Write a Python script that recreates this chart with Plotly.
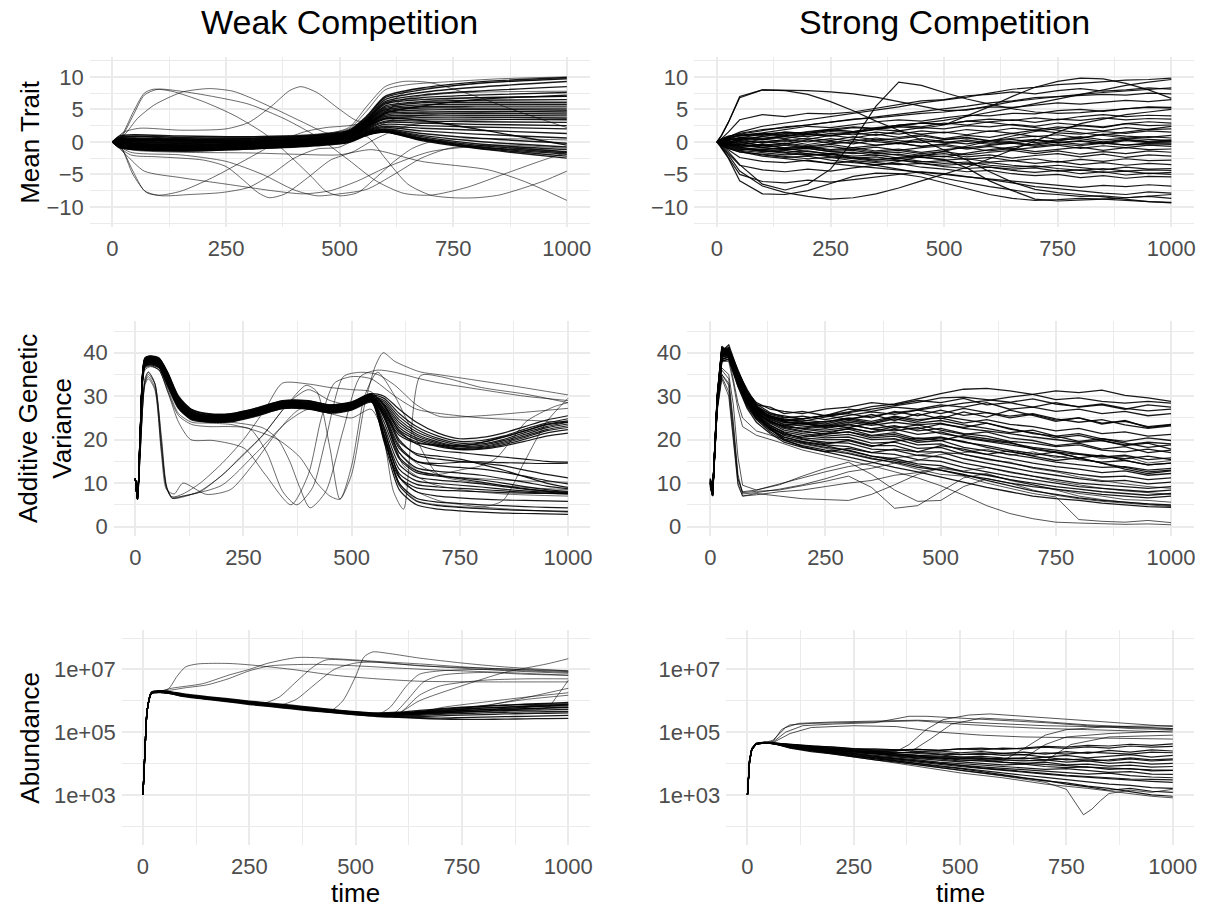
import plotly.graph_objects as go

# ---------------- Weak competition : mean trait ----------------
WT_T = [0, 15, 50, 150, 300, 450, 520, 560, 600, 680, 800, 1000]
WT_BUNDLE = [
    [0, 0.9, 1.1, 0.9, 0.8, 1.1, 1.8, 4.0, 7.0, 8.3, 9.2, 9.9],
    [0, 0.7, 0.9, 0.7, 0.6, 1.0, 1.7, 3.8, 6.8, 8.0, 9.0, 9.7],
    [0, 0.6, 0.8, 0.5, 0.5, 0.9, 1.6, 3.6, 6.5, 7.6, 8.4, 9.3],
    [0, 0.5, 0.6, 0.4, 0.4, 0.8, 1.5, 3.5, 6.2, 7.2, 7.8, 8.5],
    [0, 0.4, 0.5, 0.3, 0.3, 0.7, 1.5, 3.4, 6.0, 6.8, 7.2, 7.6],
    [0, 0.3, 0.4, 0.2, 0.2, 0.6, 1.4, 3.3, 5.8, 6.5, 6.8, 7.0],
    [0, 0.3, 0.3, 0.1, 0.1, 0.6, 1.4, 3.2, 5.5, 6.2, 6.4, 6.5],
    [0, 0.2, 0.2, 0.0, 0.0, 0.5, 1.3, 3.1, 5.3, 6.0, 6.1, 6.1],
    [0, 0.2, 0.1, -0.1, 0.0, 0.5, 1.3, 3.0, 5.1, 5.7, 5.8, 5.8],
    [0, 0.1, 0.0, -0.2, -0.1, 0.4, 1.2, 2.9, 4.9, 5.4, 5.5, 5.5],
    [0, 0.1, -0.1, -0.3, -0.2, 0.4, 1.2, 2.8, 4.7, 5.2, 5.2, 5.2],
    [0, 0.0, -0.2, -0.4, -0.2, 0.3, 1.1, 2.7, 4.5, 4.9, 5.0, 4.9],
    [0, 0.0, -0.3, -0.5, -0.3, 0.3, 1.1, 2.6, 4.3, 4.6, 4.7, 4.6],
    [0, -0.1, -0.3, -0.5, -0.3, 0.2, 1.0, 2.5, 4.1, 4.4, 4.4, 4.3],
    [0, -0.1, -0.4, -0.6, -0.4, 0.2, 1.0, 2.4, 3.9, 4.1, 4.1, 4.0],
    [0, -0.2, -0.4, -0.6, -0.4, 0.1, 0.9, 2.3, 3.7, 3.8, 3.8, 3.7],
    [0, -0.2, -0.5, -0.7, -0.5, 0.1, 0.9, 2.2, 3.5, 3.5, 3.5, 3.4],
    [0, -0.3, -0.5, -0.7, -0.5, 0.0, 0.8, 2.1, 3.2, 3.2, 3.1, 3.0],
    [0, -0.3, -0.6, -0.8, -0.6, 0.0, 0.8, 2.0, 3.0, 2.9, 2.7, 2.5],
    [0, -0.4, -0.6, -0.8, -0.6, -0.1, 0.7, 1.9, 2.7, 2.5, 2.3, 2.0],
    [0, -0.4, -0.7, -0.9, -0.7, -0.1, 0.7, 1.8, 2.4, 2.1, 1.8, 1.3],
    [0, -0.5, -0.8, -1.0, -0.7, -0.2, 0.6, 1.7, 2.2, 1.7, 1.2, 0.6],
    [0, -0.5, -0.8, -1.0, -0.8, -0.2, 0.5, 1.6, 2.0, 1.3, 0.6, -0.2],
    [0, -0.6, -0.9, -1.1, -0.8, -0.3, 0.4, 1.5, 1.9, 1.0, 0.1, -0.8],
    [0, -0.6, -1.0, -1.2, -0.9, -0.3, 0.3, 1.4, 1.8, 0.8, -0.3, -1.2],
    [0, -0.7, -1.0, -1.2, -0.9, -0.4, 0.2, 1.3, 1.7, 0.6, -0.5, -1.5],
    [0, -0.7, -1.1, -1.3, -1.0, -0.4, 0.1, 1.2, 1.6, 0.5, -0.7, -1.7],
    [0, -0.8, -1.1, -1.3, -1.0, -0.5, 0.0, 1.1, 1.6, 0.4, -0.8, -1.9],
    [0, -0.8, -1.2, -1.4, -1.1, -0.5, 0.0, 1.1, 1.5, 0.3, -0.9, -2.2],
    [0, -0.9, -1.2, -1.4, -1.1, -0.6, -0.1, 1.0, 1.5, 0.2, -1.0, -2.5],
    [0, 0.5, 0.3, 0.2, 0.0, 0.3, 1.0, 2.5, 4.4, 5.5, 6.5, 7.2],
    [0, -0.4, 0.2, 0.3, 0.1, 0.3, 1.0, 2.4, 3.6, 3.3, 2.0, -0.5],
]
WT_OUT_T = [
    [0, 20, 45, 70, 90, 130, 200, 270, 340, 400, 440, 470, 500, 540, 580, 620, 660, 700, 800, 1000],
    [0, 20, 45, 70, 100, 150, 220, 300, 380, 450, 520, 580, 640, 700, 780, 860, 940, 1000],
    [0, 25, 55, 90, 120, 155, 213, 265, 300, 360, 420, 470, 510, 550, 590, 650, 750, 850, 1000],
    [0, 25, 60, 150, 250, 300, 350, 390, 415, 450, 500, 540, 580, 640, 750, 1000],
    [0, 20, 45, 70, 100, 150, 220, 300, 360, 420, 470, 520, 570, 620, 700, 800, 1000],
    [0, 20, 45, 75, 110, 170, 240, 300, 350, 400, 450, 500, 560, 620, 700, 850, 1000],
    [0, 40, 100, 200, 250, 290, 320, 345, 380, 430, 480, 530, 580, 650, 750, 1000],
    [0, 40, 150, 250, 330, 400, 450, 500, 560, 620, 680, 740, 800, 900, 1000],
    [0, 40, 150, 300, 400, 498, 571, 680, 827, 907, 1000],
    [0, 150, 300, 450, 520, 560, 600, 650, 700, 750, 800, 850, 900, 950, 1000],
    [0, 150, 300, 450, 520, 560, 600, 640, 700, 800, 900, 1000],
    [0, 150, 300, 450, 520, 560, 600, 650, 750, 850, 1000],
    [0, 30, 70, 150, 250, 350, 420, 480, 540, 600, 700, 850, 1000],
]
WT_OUT_V = [
    [0, 1, 4.5, 7.5, 8.1, 7.8, 6.2, 4, 1, -2.8, -5.5, -7.6, -8.3, -7.8, -5.5, -3, -1, 0, 0.5, 0.3],
    [0, 0.8, 4, 7.2, 8.1, 7.8, 7, 5.8, 3.5, 0.8, -2.8, -6, -7.9, -8.2, -7, -5, -3, -1.6],
    [0, 1, 3.6, 5.6, 6.7, 7.7, 8.2, 7.8, 6.9, 5, 3, 1.4, 1.2, 2.5, 5, 7.8, 8.6, 9.2, 9.8],
    [0, 1.5, 2.1, 1.8, 2, 3, 5.5, 7.9, 8.5, 7.6, 5, 3.2, 3.5, 6.5, 7.5, 7.8],
    [0, -1, -4.5, -7.5, -8.2, -7.6, -5.5, -2.5, -0.2, 1.5, 2.2, 2.5, 3.2, 5.5, 6.3, 6.8, 7],
    [0, -1, -5, -7.8, -8.3, -8.1, -7.8, -7, -5, -2.5, -1.1, -0.8, 1.5, 3.5, 4.2, 4.6, 4.8],
    [0, -2, -2.3, -2.8, -3.8, -6, -7.8, -8.6, -8, -5.5, -2.8, -1.5, 0.5, 2.5, 3.2, 3.6],
    [0, -1.6, -2, -3, -5, -7.4, -8.3, -8, -7.3, -5, -2.5, -1, -0.6, -0.9, -1.6],
    [0, -1.2, -1.6, -1.7, -1.9, -2, -1.2, -3, -4.3, -6.1, -9],
    [0, -0.8, -0.7, -0.2, 0.5, 0.8, -2.5, -6.5, -8.2, -8.6, -8.6, -8.2, -7.2, -6, -4.5],
    [0, 0.5, 0.6, 1, 2.2, 5.5, 8.5, 9.3, 9.1, 7, 4.5, 2.2],
    [0, 0.7, 0.8, 1.2, 2, 4.8, 8, 8.8, 9.3, 9.7, 10],
    [0, -2, -4.5, -5.5, -6.5, -7.5, -8, -7.5, -6, -4, -1.5, -0.5, -1],
]

# ---------------- Strong competition : mean trait ----------------
ST_T = [0, 10, 25, 50, 100, 150, 200, 250, 300, 350, 400, 450, 500, 550, 600,
        650, 700, 750, 800, 850, 900, 950, 1000]
ST_LINES = [
    [0, 0.5, 0.9, 1.2, 1.8, 2.3, 2.6, 3.0, 3.5, 3.7, 4.1, 4.4, 4.6, 5.0, 5.4, 5.3, 5.7, 6.0, 5.8, 6.1, 6.4, 6.2, 6.5],
    [0, 0.4, 0.7, 1.0, 1.4, 1.9, 2.4, 2.2, 2.7, 3.1, 3.4, 3.2, 3.7, 4.1, 4.0, 4.4, 4.3, 4.8, 5.0, 4.7, 5.1, 5.3, 5.2],
    [0, 0.3, 0.6, 1.1, 1.0, 1.5, 1.3, 1.8, 2.2, 2.0, 2.6, 2.9, 2.7, 3.2, 3.5, 3.3, 3.7, 3.4, 3.9, 4.2, 3.9, 4.1, 4.0],
    [0, -0.2, 0.3, 0.6, 1.2, 0.9, 1.5, 1.9, 1.6, 2.2, 2.5, 2.3, 2.9, 2.6, 3.1, 3.4, 3.0, 3.5, 3.3, 3.7, 3.4, 3.6, 3.5],
    [0, 0.2, 0.5, 0.4, 0.9, 1.3, 1.1, 1.6, 1.4, 1.9, 1.7, 2.2, 2.0, 2.5, 2.3, 2.7, 2.4, 2.9, 2.6, 2.3, 2.8, 2.5, 2.6],
    [0, 0.3, 0.2, 0.7, 0.5, 1.0, 0.8, 1.3, 1.1, 1.5, 1.2, 1.7, 1.4, 1.9, 1.6, 2.1, 1.8, 2.3, 2.0, 1.7, 2.2, 1.9, 2.0],
    [0, -0.1, 0.4, 0.2, 0.8, 0.5, 1.1, 0.9, 1.4, 1.0, 1.6, 1.2, 1.5, 1.1, 1.7, 1.3, 1.8, 1.4, 1.2, 1.6, 1.3, 1.7, 1.5],
    [0, 0.2, -0.2, 0.5, 0.3, 0.8, 0.4, 1.0, 0.6, 1.2, 0.7, 1.1, 0.5, 1.0, 0.7, 1.3, 0.8, 1.1, 0.6, 1.2, 0.9, 0.7, 1.0],
    [0, -0.3, 0.1, -0.2, 0.4, 0.1, 0.6, 0.2, 0.8, 0.3, 0.5, 0.9, 0.4, 0.7, 0.2, 0.6, 0.9, 0.4, 0.8, 0.3, 0.5, 0.8, 0.6],
    [0, 0.1, -0.3, 0.2, -0.1, 0.4, 0.0, 0.5, 0.1, 0.6, 0.2, -0.1, 0.3, 0.6, 0.1, 0.4, -0.1, 0.3, 0.5, 0.0, 0.4, 0.1, 0.3],
    [0, -0.2, 0.2, -0.4, 0.1, -0.3, 0.3, -0.2, 0.4, 0.0, -0.3, 0.2, -0.1, 0.3, -0.2, 0.1, 0.4, -0.1, 0.2, -0.2, 0.3, 0.0, 0.1],
    [0, 0.3, 0.0, 0.4, -0.2, 0.2, -0.4, 0.1, -0.3, 0.3, -0.1, 0.5, 0.0, -0.3, 0.2, -0.2, 0.3, -0.1, 0.1, -0.3, 0.2, -0.1, 0.0],
    [0, -0.1, -0.4, -0.1, -0.5, -0.2, -0.6, -0.3, 0.0, -0.5, -0.2, -0.7, -0.3, 0.1, -0.4, -0.1, -0.5, 0.0, -0.4, -0.1, -0.5, -0.2, -0.2],
    [0, 0.2, -0.2, 0.1, -0.6, -0.3, -0.8, -0.4, -0.9, -0.5, -0.2, -0.7, -0.4, -0.9, -0.5, -0.2, -0.7, -0.3, -0.6, -0.2, -0.5, -0.3, -0.4],
    [0, -0.2, -0.5, -0.3, -0.8, -0.5, -1.0, -0.7, -1.2, -0.8, -1.3, -0.9, -0.6, -1.1, -0.7, -1.2, -0.8, -0.5, -1.0, -0.6, -0.9, -0.5, -0.7],
    [0, -0.3, -0.1, -0.6, -0.4, -0.9, -0.7, -1.2, -0.9, -1.4, -1.1, -1.6, -1.2, -0.9, -1.4, -1.0, -1.5, -1.1, -0.8, -1.3, -0.9, -1.2, -1.1],
    [0, 0.1, -0.3, -0.7, -0.5, -1.0, -0.8, -1.3, -1.1, -1.6, -1.3, -1.8, -1.5, -2.0, -1.6, -1.3, -1.8, -1.4, -1.9, -1.5, -1.8, -1.4, -1.6],
    [0, -0.3, -0.6, -0.4, -0.9, -1.2, -1.0, -1.5, -1.3, -1.8, -1.6, -2.1, -1.8, -2.3, -2.0, -2.5, -2.1, -1.8, -2.3, -1.9, -2.4, -2.0, -2.2],
    [0, -0.2, -0.5, -0.9, -1.2, -1.0, -1.5, -1.8, -1.6, -2.1, -1.9, -2.4, -2.2, -2.7, -2.4, -2.9, -2.6, -3.1, -2.7, -3.0, -2.6, -2.9, -2.8],
    [0, -0.4, -0.3, -0.8, -1.3, -1.6, -1.4, -1.9, -2.2, -2.0, -2.5, -2.3, -2.8, -2.6, -3.1, -2.9, -3.3, -3.0, -3.5, -3.2, -3.6, -3.3, -3.5],
    [0, -0.2, -0.6, -1.0, -1.5, -1.3, -1.8, -2.1, -2.5, -2.3, -2.8, -3.1, -2.9, -3.4, -3.2, -3.6, -3.9, -3.6, -4.0, -4.3, -3.9, -4.2, -4.1],
    [0, -0.3, -0.7, -1.2, -1.1, -1.6, -2.0, -1.8, -2.4, -2.7, -2.5, -3.0, -3.3, -3.1, -3.6, -3.9, -3.7, -4.1, -4.4, -4.1, -4.5, -4.3, -4.4],
    [0, -0.4, -0.9, -1.3, -1.6, -2.0, -1.8, -2.3, -2.6, -3.0, -2.8, -3.3, -3.6, -3.4, -3.9, -4.2, -4.0, -4.5, -4.3, -4.7, -4.5, -4.9, -4.7],
    [0, -0.5, -1.0, -1.6, -1.9, -2.2, -2.6, -2.4, -2.9, -3.2, -3.5, -3.3, -3.8, -4.1, -3.9, -4.4, -4.7, -4.4, -4.9, -4.6, -5.1, -4.8, -5.0],
    [0, -0.4, -0.8, -1.4, -2.0, -2.4, -2.2, -2.8, -3.2, -3.5, -3.3, -3.9, -4.2, -4.6, -4.4, -4.9, -5.2, -5.0, -5.5, -5.2, -5.6, -5.3, -5.4],
    [0, 0.3, 0.6, 1.0, 1.3, 1.1, 1.6, 1.9, 2.3, 2.1, 2.6, 2.9, 2.7, 3.2, 3.0, 2.6, 2.2, 1.8, 1.4, 1.0, 0.6, 0.4, 0.2],
    [0, -0.3, -0.6, -1.1, -1.4, -1.8, -2.1, -1.9, -2.5, -2.8, -2.4, -2.0, -2.3, -1.7, -1.2, -0.8, -0.3, 0.2, 0.6, 1.1, 1.5, 2.0, 2.4],
    [0, 0.3, 0.8, 1.3, 1.9, 2.2, 2.6, 3.1, 3.4, 3.9, 4.3, 4.6, 5.0, 5.5, 6.0, 6.3, 6.8, 7.0, 7.1, 7.3, 7.2, 7.5, 7.4],
    [0, -0.5, -1.0, -1.5, -2.2, -2.6, -3.0, -3.3, -3.7, -4.0, -4.3, -4.7, -5.0, -5.4, -5.7, -6.0, -6.4, -6.6, -7.0, -6.7, -6.9, -6.6, -6.8],
    # outlying trajectories
    [0, 1, 3, 7, 8, 8, 7.9, 7.7, 7.4, 6.9, 6.2, 5.4, 4.8, 4.9, 5.5, 6.2, 6.6, 7.0, 7.3, 7.6, 7.8, 8.1, 8.3],
    [0, 1, 3, 6.8, 8, 7.9, 7.3, 6.2, 4.8, 3.2, 1.8, 0.3, -1.2, -2.8, -4.6, -6.2, -7.3, -7.8, -8.1, -8.5, -8.9, -9.2, -9.3],
    [0, -0.5, -1.5, -3.5, -6.5, -7.4, -6.5, -4.2, 0.2, 5.5, 9.2, 8.7, 7.6, 6.6, 5.8, 5.1, 4.6, 4.4, 4.5, 4.8, 5.2, 5.4, 5.3],
    [0, -1, -2.5, -6, -8, -8.1, -7.5, -6.4, -5.3, -4.8, -4.9, -5.4, -6.3, -7.3, -8.1, -8.7, -9, -8.9, -8.7, -8.8, -9, -9.2, -9.4],
    [0, -0.8, -2, -4.5, -6.8, -7.8, -8.4, -8.8, -8.6, -8, -7.1, -6, -5, -3.9, -2.6, -1.2, 0.2, 1.5, 2.8, 3.5, 4.2, 4.6, 5.0],
    [0, 0.5, 1.5, 3.4, 4.2, 3.9, 4.4, 4.3, 4.6, 5.2, 5.8, 6.3, 6.5, 7.1, 7.3, 7.7, 7.4, 7.9, 8.2, 7.8, 8.0, 8.3, 8.1],
    [0, -0.4, -1.2, -2.4, -3, -3.2, -2.8, -3.3, -3.0, -3.6, -4.2, -4.8, -5.6, -6.3, -6.9, -7.4, -7.9, -8.1, -8.4, -8.3, -8.6, -8.4, -8.7],
    [0, -0.6, -1.8, -3.6, -4.3, -4.6, -4.2, -4.5, -4.0, -3.6, -3.0, -2.2, -1.4, -0.6, 0.2, 0.9, 1.6, 2.1, 2.5, 2.2, 2.8, 3.1, 2.9],
    [0, -0.8, -2.4, -5, -6.1, -6.3, -5.9, -6.2, -5.8, -5.4, -5.0, -4.6, -4.9, -5.3, -5.8, -6.3, -6.9, -7.2, -7.6, -7.9, -8.1, -7.7, -7.9],
    [0, 0.2, 0.5, 0.9, 1.2, 1.5, 1.3, 1.8, 1.6, 2.0, 2.3, 2.1, 2.6, 4.0, 5.4, 7.0, 8.4, 9.3, 9.8, 9.7, 9.0, 8.0, 6.7],
    [0, -0.2, 0.3, 0.6, 0.4, 0.9, 1.2, 1.0, 1.5, 1.9, 2.4, 2.9, 3.3, 3.9, 4.5, 5.2, 5.9, 6.6, 7.3, 8.0, 8.7, 9.2, 9.6],
    [0, 0.2, -0.3, -0.6, -0.9, -1.2, -1.0, -1.5, -1.8, -1.6, -2.1, -2.4, -2.7, -4.0, -6.0, -7.5, -8.8, -9.1, -9.0, -8.8, -8.6, -8.4, -8.1],
    [0, 0.3, 0.8, 1.5, 2.4, 2.9, 3.4, 3.8, 4.3, 4.9, 5.4, 6.0, 6.4, 6.9, 7.5, 8.1, 8.4, 8.8, 9.0, 9.3, 9.5, 9.6, 9.8],
]

# ---------------- Weak competition : additive genetic variance ----------------
WV_T = [0, 5, 12, 22, 35, 55, 75, 100, 130, 170, 220, 280, 340, 400, 450, 500, 545,
        575, 610, 650, 700, 750, 800, 850, 900, 950, 1000]
WV_BUNDLE = [
    [11, 6.3, 24, 38.8, 39.3, 38.8, 35.5, 30, 27, 26, 26, 27.3, 29, 29, 28, 28.7, 30.6, 30, 27, 24, 21.5, 20.2, 20.5, 21.5, 23, 24.5, 25.5],
    [11, 6.3, 24, 38.5, 39, 38.5, 35, 29.5, 26.6, 25.6, 25.7, 27, 28.7, 28.6, 27.7, 28.4, 30.3, 29.5, 26, 23, 20.8, 19.6, 19.8, 20.8, 22.4, 23.8, 24.8],
    [11, 6.3, 23.5, 38.2, 38.8, 38.2, 34.6, 29.2, 26.3, 25.4, 25.5, 26.8, 28.5, 28.4, 27.5, 28.2, 30, 29, 25.3, 22.4, 20.3, 19.2, 19.4, 20.5, 22, 23.5, 24.3],
    [11, 6.3, 23.5, 38, 38.6, 38, 34.3, 28.9, 26, 25.2, 25.3, 26.6, 28.3, 28.2, 27.3, 28, 29.8, 28.6, 24.6, 21.8, 19.9, 18.8, 19, 20, 21.6, 23, 24],
    [11, 6.3, 23, 37.8, 38.4, 37.8, 34, 28.6, 25.8, 25, 25.1, 26.4, 28.1, 28, 27.1, 27.8, 29.6, 28.2, 24, 21.3, 19.5, 18.5, 18.7, 19.7, 21.2, 22.7, 23.6],
    [11, 6.3, 23, 37.6, 38.2, 37.6, 33.7, 28.3, 25.5, 24.8, 24.9, 26.2, 27.9, 27.8, 26.9, 27.6, 29.4, 27.8, 23.4, 20.9, 19.2, 18.3, 18.4, 19.4, 20.8, 22.3, 23.2],
    [11, 6.3, 22.5, 37.4, 38, 37.4, 33.4, 28, 25.3, 24.6, 24.7, 26, 27.7, 27.6, 26.7, 27.4, 29.2, 27.4, 22.8, 20.4, 18.9, 18, 18.2, 19.1, 20.5, 22, 22.8],
    [11, 6.3, 22.5, 37.2, 37.8, 37.2, 33.1, 27.8, 25, 24.4, 24.5, 25.8, 27.5, 27.4, 26.5, 27.2, 29, 27, 22.2, 20, 18.6, 17.8, 18, 18.8, 20.1, 21.5, 22.3],
    [11, 6.3, 22, 37, 37.5, 36.8, 32.7, 27.5, 24.8, 24.2, 24.3, 25.6, 27.3, 27.2, 26.3, 27, 28.8, 26.5, 21.6, 19.5, 18.4, 17.7, 17.8, 18.5, 19.6, 20.8, 21.5],
    [11, 6.3, 22, 36.8, 37.2, 36.5, 32.3, 27.2, 24.5, 24, 24.1, 25.4, 27.1, 27, 26.1, 26.8, 28.6, 26, 21, 19.2, 18.7, 18.6, 19.3, 20.6, 22, 23.4, 24.1],
    [11, 6.3, 22, 38.6, 39.1, 38.6, 35.2, 29.7, 26.8, 25.8, 25.8, 27.1, 28.8, 28.8, 27.9, 28.5, 30.4, 28, 22, 19, 17.5, 17, 16.5, 16, 15.5, 15, 14.8],
    [11, 6.3, 22.5, 38.4, 38.9, 38.4, 34.8, 29.3, 26.4, 25.5, 25.6, 26.9, 28.6, 28.5, 27.6, 28.3, 30.2, 27, 20, 16.5, 15.5, 15, 14.6, 14, 13, 12, 11.2],
    [11, 6.3, 23, 38.2, 38.7, 38.1, 34.5, 29, 26.2, 25.3, 25.4, 26.7, 28.4, 28.3, 27.4, 28.1, 30, 26, 18.5, 15, 14, 13.6, 13.2, 12.5, 11.6, 10.6, 9.8],
    [11, 6.3, 23, 38, 38.5, 37.9, 34.2, 28.8, 25.9, 25.1, 25.2, 26.5, 28.2, 28.1, 27.2, 27.9, 29.8, 25, 17, 13.5, 12.7, 12.3, 11.8, 11, 10.2, 9.3, 8.7],
    [11, 6.3, 23.5, 37.8, 38.3, 37.7, 33.9, 28.5, 25.7, 24.9, 25, 26.3, 28, 27.9, 27, 27.7, 29.6, 24, 15.6, 12.4, 11.6, 11.2, 10.7, 10, 9.2, 8.5, 8.1],
    [11, 6.3, 23.5, 37.6, 38.1, 37.5, 33.6, 28.2, 25.4, 24.7, 24.8, 26.1, 27.8, 27.7, 26.8, 27.5, 29.4, 23, 14.3, 11.4, 10.7, 10.3, 9.8, 9.2, 8.6, 8.1, 7.8],
    [11, 6.3, 24, 37.4, 37.9, 37.3, 33.3, 27.9, 25.2, 24.5, 24.6, 25.9, 27.6, 27.5, 26.6, 27.3, 29.2, 22, 13.2, 10.5, 9.9, 9.5, 9.1, 8.6, 8.2, 7.9, 7.6],
    [11, 6.3, 24, 37.2, 37.7, 37, 33, 27.6, 24.9, 24.3, 24.4, 25.7, 27.4, 27.3, 26.4, 27.1, 29, 21, 12.2, 9.7, 9.1, 8.8, 8.5, 8.2, 7.9, 7.7, 7.5],
    [11, 6.3, 22, 37, 37.4, 36.7, 32.6, 27.3, 24.7, 24.1, 24.2, 25.5, 27.2, 27.1, 26.2, 26.9, 28.8, 20, 11.3, 8.9, 8.4, 8.2, 8, 7.8, 7.7, 7.6, 7.5],
    [11, 6.3, 22.5, 38.7, 39.2, 38.7, 35.3, 29.8, 26.9, 25.9, 25.9, 27.2, 28.9, 28.9, 28, 28.6, 30.5, 25.5, 16, 12.8, 11.8, 11, 10.2, 9.4, 8.7, 8.2, 7.9],
    [11, 6.3, 23, 38.3, 38.8, 38.3, 34.7, 29.4, 26.5, 25.6, 25.7, 27, 28.7, 28.6, 27.7, 28.4, 30.1, 22.5, 11.5, 8, 7, 6.6, 6.3, 6.1, 6, 5.9, 5.8],
    [11, 6.3, 23.5, 37.9, 38.4, 37.8, 34.1, 28.7, 25.8, 25, 25.1, 26.4, 28.1, 28, 27.1, 27.8, 29.7, 21, 10, 6.5, 5.6, 5.3, 5, 4.8, 4.6, 4.4, 4.3],
    [11, 6.3, 24, 37.5, 38, 37.4, 33.5, 28.1, 25.3, 24.6, 24.7, 26, 27.7, 27.6, 26.7, 27.4, 29.3, 20.5, 9.5, 5.8, 4.8, 4.4, 4.1, 3.9, 3.7, 3.6, 3.5],
    [11, 6.3, 22, 37.3, 37.8, 37.1, 33.2, 27.8, 25, 24.4, 24.5, 25.8, 27.5, 27.4, 26.5, 27.2, 29.1, 19.5, 8.5, 5, 4, 3.6, 3.3, 3.1, 3, 2.9, 2.8],
    [11, 6.3, 22.5, 38.1, 38.6, 38, 34.4, 28.9, 26.1, 25.2, 25.3, 26.6, 28.3, 28.2, 27.3, 28, 29.9, 26.5, 19.5, 16.8, 16.2, 15.5, 14.3, 13, 11.5, 10, 9],
    [11, 6.3, 23, 37.7, 38.2, 37.6, 33.8, 28.4, 25.6, 24.8, 24.9, 26.2, 27.9, 27.8, 26.9, 27.6, 29.5, 25.5, 18, 15, 14.5, 14.8, 14.9, 14.7, 14.6, 14.5, 14.6],
]
WV_OUT_T = [
    [0, 5, 12, 22, 30, 45, 60, 72, 85, 110, 150, 200, 240, 295, 355, 400, 450, 500, 545, 580, 620, 680, 750, 850, 1000],
    [0, 5, 12, 22, 35, 55, 75, 100, 130, 170, 220, 265, 304, 341, 373, 410, 440, 481, 520, 560, 600, 650, 705, 800, 900, 1000],
    [0, 5, 12, 22, 35, 55, 75, 100, 130, 170, 220, 295, 330, 357, 380, 404, 440, 480, 520, 560, 600, 658, 705, 800, 900, 1000],
    [0, 5, 12, 22, 30, 45, 60, 72, 85, 110, 150, 203, 241, 295, 357, 395, 420, 450, 473, 500, 530, 555, 573, 600, 658, 705, 858, 1000],
    [0, 5, 12, 22, 30, 45, 60, 72, 90, 110, 164, 220, 270, 330, 380, 450, 500, 545, 575, 597, 620, 659, 705, 800, 900, 1000],
    [0, 5, 12, 22, 35, 55, 75, 100, 128, 180, 252, 300, 360, 400, 430, 460, 500, 545, 600, 650, 705, 800, 900, 1000],
    [0, 5, 12, 22, 30, 45, 60, 72, 85, 120, 200, 280, 350, 400, 450, 500, 545, 580, 620, 700, 800, 900, 1000],
    [0, 5, 12, 22, 35, 55, 75, 100, 130, 170, 220, 280, 340, 400, 450, 500, 545, 575, 610, 650, 700, 800, 850, 900, 950, 1000],
    [0, 5, 12, 22, 35, 55, 75, 100, 130, 170, 220, 280, 340, 400, 450, 500, 545, 575, 610, 650, 700, 750, 800, 835, 870, 904, 966, 1000],
    [0, 5, 12, 22, 30, 45, 60, 72, 85, 110, 150, 200, 250, 300, 340, 400, 450, 500, 545, 580, 620, 700, 800, 900, 1000],
    [0, 5, 12, 22, 35, 55, 75, 100, 130, 170, 220, 280, 330, 380, 420, 450, 473, 500, 530, 560, 600, 650, 700, 800, 900, 1000],
]
WV_OUT_V = [
    [11, 6.3, 19, 33.5, 35.6, 33, 20, 9, 6.5, 7, 8, 11.8, 15.5, 21, 28.5, 31.5, 29, 28, 29.5, 25, 14, 10, 8.5, 7.5, 7],
    [11, 6.3, 21, 36, 36.8, 36, 31, 25.5, 23.5, 23, 23, 22.5, 17, 8, 5, 9, 20, 34.5, 35.5, 35, 32.5, 28, 25.3, 25.5, 26.3, 27.2],
    [11, 6.3, 21, 37, 37.5, 36.5, 32, 27, 24.8, 24, 24, 22.7, 20, 15, 9, 4.3, 8, 22, 34.5, 36, 35.5, 34, 33, 31.5, 30, 29],
    [11, 6.3, 19, 34, 35.5, 33, 21, 9.5, 6.5, 6.8, 8.2, 12, 15.8, 21.1, 28.8, 32.5, 31, 18, 6.3, 12, 28, 37, 40, 38, 35.6, 34.9, 32.6, 30.3],
    [11, 6.3, 18, 33, 34.5, 32, 17, 8.5, 7.5, 10, 7.4, 8.5, 14, 22, 27, 27, 28, 29.5, 20, 8, 4, 34.7, 34.5, 32, 30.5, 28.5],
    [11, 6.3, 21, 36.5, 37, 36, 31, 24, 20, 19.8, 18, 12, 5, 12, 25, 33, 34.5, 34, 30, 27, 26, 25, 24.5, 24],
    [11, 6.3, 18, 32.5, 34, 31.5, 18, 9, 6.8, 7.2, 9.5, 17, 24, 27, 26, 25, 27, 20, 10, 6, 4.5, 3.8, 3.3],
    [11, 6.3, 22, 37, 37.6, 37, 33, 28, 25.3, 24.5, 24.6, 25.9, 27.6, 27.5, 26.6, 27.3, 29.2, 21, 10, 6, 5, 4.5, 6, 15, 24, 29.5],
    [11, 6.3, 22.5, 37.5, 38, 37.3, 33.5, 28.2, 25.5, 24.7, 24.8, 26.1, 27.8, 27.7, 26.8, 27.5, 29.4, 25, 17, 13, 12, 13, 14, 15.8, 20, 24.2, 27.5, 28.5],
    [11, 6.3, 19, 33, 35, 32.8, 19, 9, 6.8, 7.5, 10, 14.5, 20, 27, 33, 32.8, 32, 31.5, 31, 27, 17, 12, 11, 10.5, 10.2],
    [11, 6.3, 21, 36.4, 37, 36, 31.5, 26, 24, 23.8, 23.5, 22, 20, 16, 10, 7, 6.3, 14, 30, 35.5, 30, 20, 12, 10, 9, 8.5],
]

# ---------------- Strong competition : additive genetic variance ----------------
SV_T = [0, 5, 15, 25, 40, 60, 80, 100, 130, 160, 200, 250, 300, 350, 400, 450, 500,
        550, 600, 650, 700, 750, 800, 850, 900, 950, 1000]
SV_LINES = [
    [10, 7.5, 29, 40.5, 41, 36, 31, 28.5, 27, 26.5, 26, 27, 27.5, 28.5, 28, 29, 28.5, 29.5, 28, 28.5, 27.5, 28.5, 27.5, 28, 27, 28, 27.5],
    [11, 7.8, 30, 41.5, 40, 35.5, 31.5, 28, 27.5, 26, 26.5, 25.5, 27, 26.5, 27.5, 27, 28, 27.5, 28.5, 27, 27.5, 26.5, 27, 26, 26.5, 25.5, 26],
    [9.5, 7.2, 28, 39.5, 40.5, 35, 30, 27.5, 26, 25.5, 24.8, 25.5, 26, 25, 26.5, 25.5, 26.8, 25.6, 26.2, 25, 25.8, 24.5, 25, 23.8, 24.2, 23, 23.5],
    [10.5, 7.6, 29.5, 40, 39.5, 34.5, 30.5, 27, 25.5, 24.5, 24.5, 24, 25, 24.2, 25.4, 24.6, 25, 23.8, 24.6, 23.5, 23, 22, 22.6, 21.4, 21.8, 20.8, 21.2],
    [10, 7.4, 28.5, 38.5, 39, 34, 29.5, 26.5, 25, 24, 23.6, 23, 24, 23.3, 24, 23.4, 23.8, 22.6, 22, 21.4, 20.6, 20, 19.4, 19.8, 18.8, 19.4, 19],
    [11, 7.9, 30.5, 41, 40.2, 35.2, 30.3, 27.8, 24.8, 23.6, 23.2, 22.6, 23.4, 22.5, 23.2, 22, 22.6, 21.4, 20.8, 19.6, 19.2, 18.4, 18.8, 17.6, 17.2, 17.8, 17],
    [9, 7, 27.5, 38, 38.6, 33.6, 29, 26, 24.2, 23, 22.6, 22.2, 22.8, 21.6, 22.4, 21.2, 21.8, 20.4, 19.6, 18.8, 18, 17.2, 16.6, 16, 16.4, 15.4, 15.8],
    [10.2, 7.5, 29, 39.8, 40.6, 34.8, 30.2, 27.2, 24.6, 23.4, 22.4, 21.8, 22.4, 21, 21.6, 20.2, 20.6, 19.4, 18.6, 17.6, 16.8, 16.2, 15.4, 14.8, 15.2, 14.2, 14.6],
    [10.8, 7.7, 29.8, 40.8, 39.8, 33.8, 29.6, 26.6, 24, 22.6, 21.8, 21.4, 21.8, 20.4, 20.8, 19.4, 19.8, 18.2, 17.4, 16.6, 15.8, 14.8, 14.2, 13.6, 13.8, 13, 13.4],
    [9.8, 7.3, 28.2, 39.2, 40, 34.4, 29.8, 26.4, 23.8, 22.2, 21.4, 20.8, 21.2, 20, 20.2, 18.8, 19, 17.4, 16.6, 15.6, 14.6, 13.8, 13.2, 12.4, 12.8, 11.8, 12.2],
    [10.4, 7.6, 29.2, 40.2, 39.4, 33.2, 28.8, 25.8, 23.2, 21.8, 21, 20.4, 20.6, 19.2, 19.4, 18, 18.2, 16.6, 15.6, 14.6, 13.6, 12.8, 12, 11.4, 11.6, 10.8, 11.2],
    [9.6, 7.2, 28, 38.8, 39.6, 33, 28.4, 25.4, 22.8, 21.4, 20.4, 20, 20, 18.6, 18.6, 17.2, 17.2, 15.6, 14.6, 13.6, 12.6, 11.8, 11, 10.4, 10.6, 9.8, 10.2],
    [10.6, 7.7, 29.6, 40.6, 40.8, 34.6, 29.2, 26, 23, 21, 20, 19.4, 19.2, 17.8, 17.6, 16.4, 16, 14.6, 13.6, 12.6, 11.6, 10.8, 10, 9.6, 9.2, 8.8, 9.2],
    [9.4, 7.1, 27.8, 38.4, 39.2, 32.8, 28, 24.8, 22.2, 20.6, 19.6, 18.8, 18.4, 17, 16.6, 15.4, 15, 13.6, 12.6, 11.6, 10.8, 10, 9.2, 8.8, 8.4, 8, 8.4],
    [10.9, 7.8, 30, 41.2, 40.4, 34, 28.6, 25.2, 22.4, 20.2, 19.2, 18.2, 17.6, 16.2, 15.6, 14.4, 14, 12.6, 11.8, 10.8, 10, 9.2, 8.6, 8, 7.6, 7.2, 7.6],
    [9.9, 7.4, 28.8, 39.6, 38.8, 32.4, 27.6, 24.6, 21.8, 19.8, 18.6, 17.6, 16.8, 15.6, 14.8, 13.6, 13, 11.8, 11, 10, 9.2, 8.6, 8, 7.4, 7, 6.6, 7],
    [10.1, 7.5, 29.1, 40.4, 41.8, 35.8, 31, 28.2, 26.2, 25.2, 24.8, 25.6, 24.6, 25.8, 24.4, 26, 24.8, 26.4, 25.2, 26.8, 25.6, 24.2, 25, 23.6, 24.4, 22.8, 23.4],
    [10.3, 7.6, 29.4, 39.4, 40.8, 35.4, 30.6, 27.6, 25.2, 24.6, 24, 23.6, 24.8, 23.8, 25.2, 24.2, 25.4, 24.6, 23.8, 22.6, 21.4, 20.8, 19.6, 20.2, 19.2, 18.2, 18.8],
    [9.7, 7.3, 28.4, 40, 39.2, 33.4, 28.2, 25, 22.6, 21.2, 20.6, 21.4, 22.6, 21.8, 23, 22.4, 23.6, 22.8, 23.8, 22.4, 21.6, 20.4, 21, 19.8, 18.6, 19.2, 17.8],
    [10.7, 7.7, 29.7, 40.9, 40.2, 34.2, 29.4, 26.2, 23.4, 21.6, 20.2, 19, 19.8, 18.4, 19.6, 20.4, 19.8, 21, 20.2, 19.4, 17.8, 17, 15.8, 16.4, 15.2, 14.2, 14.6],
    [9.3, 7.1, 27.6, 38.2, 38.4, 32.2, 27.2, 24, 21.4, 19.4, 18.2, 17.2, 18, 17, 17.8, 17.2, 18.6, 17.8, 16.6, 17.4, 16.2, 15.2, 15.8, 14.6, 13.6, 12.6, 13],
    [10, 7.4, 28.6, 39.8, 41, 35, 30.2, 27, 24.4, 22.8, 22, 21.2, 21.8, 20.8, 21.2, 19.8, 20.4, 19.6, 18.2, 17.2, 16.4, 17.2, 15.8, 14.6, 13.2, 12.2, 12.8],
    [10.5, 7.7, 29.6, 40.4, 40, 34, 29, 25.8, 22.6, 20.6, 19.4, 18.6, 17.4, 16.2, 15.2, 14, 13, 12, 10.6, 9.4, 8.2, 7.4, 6.6, 6, 5.6, 5.2, 5],
    [9.8, 7.4, 28.8, 39, 39.8, 33.8, 28.8, 25.6, 22.4, 20, 18.4, 17.2, 16, 14.8, 13.6, 12.6, 11.4, 10.2, 9, 8, 7, 6.4, 6, 5.4, 5, 4.6, 4.4],
    [10, 7.5, 29, 40.2, 40.4, 34.6, 30, 27.2, 25.2, 24.4, 24.8, 25.6, 26.4, 27.6, 28.2, 29.4, 30.6, 31.6, 31.8, 31.2, 30.4, 29.2, 29.6, 28.8, 28.4, 28.8, 28.4],
    [10.2, 7.6, 29.2, 39.6, 40, 34.2, 29.6, 26.8, 25, 24, 23.6, 24.2, 24.8, 25.4, 26.2, 26.8, 27.6, 28.4, 29, 29.8, 30.4, 31.2, 30.8, 31.4, 30.2, 29.6, 28.8],
    [10.4, 7.7, 29.4, 40.6, 39.8, 34.8, 30.4, 27.4, 25.4, 24.8, 24.2, 25.2, 26.2, 27, 27.8, 28.6, 29.6, 29.8, 29.2, 28.6, 29.4, 28.2, 27.6, 28.2, 27.2, 26.6, 27],
    [10.1, 7.5, 29, 40, 40.6, 35, 30, 27, 25.4, 24.2, 23.8, 23.2, 24.4, 23.6, 24.8, 23.8, 24.4, 23.4, 22.6, 21.6, 22.2, 20.8, 21.4, 20.2, 19.6, 20.4, 19.8],
    [10.6, 7.7, 29.8, 41, 40.4, 34.6, 29.8, 26.6, 24.2, 23, 22.6, 23.4, 22.8, 23.8, 22.6, 23.4, 22.2, 21.2, 21.8, 20.4, 19.8, 18.6, 19.2, 17.8, 18.4, 17, 17.6],
    [9.9, 7.4, 28.6, 39.4, 39.8, 34, 29.2, 26.2, 24, 23.2, 23.8, 22.8, 23.6, 22.4, 22, 22.8, 21.4, 20.6, 19.8, 19.2, 18.2, 17.6, 16.8, 16.2, 15.6, 16.2, 15.4],
    [10.3, 7.6, 29.2, 40.8, 41.2, 35.6, 30.8, 27.8, 25.8, 25, 25.4, 24.6, 25.6, 26.4, 25.8, 26.8, 26, 27.2, 26.2, 25.4, 26, 24.8, 24, 24.6, 23.4, 22.6, 23.2],
]
SV_DROP_T = [0, 5, 15, 25, 40, 50, 60, 70, 100, 150, 200, 250, 300, 350, 400, 450, 500,
             550, 600, 650, 700, 750, 800, 850, 900, 950, 1000]
SV_DROP = [
    [10, 7.5, 28, 36, 34, 24, 12, 7.5, 7.8, 8.6, 9.6, 11, 12.6, 13.4, 14.6, 15.2, 16.6, 17, 17.8, 16.4, 17.2, 15.8, 16.8, 15.6, 16.2, 14.6, 15.2],
    [10, 7.5, 27, 34.5, 31, 20, 10, 7, 7.3, 8, 8.4, 9.2, 10, 10.6, 11.8, 12.4, 13.6, 12.8, 13.6, 12.4, 11.6, 10.4, 9.6, 8.8, 8.2, 7.8, 7.4],
    [10, 7.5, 27.5, 35, 33, 23, 11, 7.8, 8.1, 8.4, 9.4, 10.4, 11.6, 9, 4.2, 4.8, 8, 11.2, 12.2, 10.6, 9.6, 8.4, 7, 6.2, 5.6, 5.2, 4.8],
    [10, 7.5, 26.5, 34, 30, 19, 9.5, 7, 7.6, 7, 6.4, 6.2, 6, 7.4, 9.6, 12, 13.4, 12.6, 12, 10.8, 9.6, 8.6, 7.6, 7, 6.2, 6, 5.6],
    [10, 7.5, 28.5, 36.5, 35, 28, 16, 9.5, 8.4, 9.6, 11.6, 13.4, 14.8, 12, 8.4, 5.8, 6, 9.2, 11, 10, 8.4, 7.2, 6.4, 5.8, 5.4, 5, 4.6],
    [10, 7.5, 29, 38, 38, 33, 27, 23, 21, 19.4, 17.6, 16.4, 15.2, 14, 12.6, 11.2, 9.4, 7.2, 4.8, 3, 1.8, 1, 0.8, 0.7, 0.5, 0.6, 0.4],
    [10, 7.5, 28, 38.5, 39, 34, 28.5, 25, 22, 20.4, 19, 18, 17, 15.8, 14.6, 13.2, 12, 11.6, 10, 8.8, 7.6, 6.8, 1.6, 1.2, 1, 1.4, 0.9],
    [10, 7.5, 27, 35, 32.5, 22, 11, 8, 8.4, 9.8, 11.2, 12.6, 13.8, 14.6, 15.8, 16.4, 17.2, 16.6, 15.4, 14.8, 13.4, 12.6, 11.4, 10.6, 9.8, 9.2, 8.8],
]

# ---------------- Weak competition : abundance ----------------
WA_T = [0, 5, 10, 20, 40, 60, 100, 150, 200, 250, 300, 350, 400, 450, 500, 550,
        600, 650, 700, 750, 800, 850, 900, 950, 1000]
WA_BUNDLE = [
    [1e3, 3e4, 5e5, 1.9e6, 2.1e6, 2.0e6, 1.62e6, 1.36e6, 1.16e6, 9.8e5, 8.4e5, 7.2e5, 6.1e5, 5.2e5, 4.5e5, 4.1e5, 4.3e5, 4.9e5, 5.6e5, 6.2e5, 6.8e5, 7.2e5, 7.6e5, 7.8e5, 8e5],
    [1e3, 3e4, 5e5, 1.85e6, 2.05e6, 1.95e6, 1.56e6, 1.31e6, 1.11e6, 9.4e5, 8e5, 6.9e5, 5.8e5, 5e5, 4.35e5, 3.95e5, 4.05e5, 4.4e5, 5e5, 5.5e5, 5.9e5, 6.2e5, 6.5e5, 6.7e5, 6.9e5],
    [1e3, 3e4, 5e5, 1.8e6, 2e6, 1.9e6, 1.5e6, 1.27e6, 1.07e6, 9e5, 7.7e5, 6.6e5, 5.6e5, 4.8e5, 4.2e5, 3.8e5, 3.8e5, 4.1e5, 4.5e5, 4.9e5, 5.2e5, 5.4e5, 5.6e5, 5.8e5, 6e5],
    [1e3, 3e4, 5e5, 1.8e6, 1.95e6, 1.85e6, 1.47e6, 1.24e6, 1.05e6, 8.8e5, 7.5e5, 6.4e5, 5.4e5, 4.6e5, 4e5, 3.6e5, 3.6e5, 3.8e5, 4.1e5, 4.4e5, 4.6e5, 4.8e5, 5e5, 5.1e5, 5.3e5],
    [1e3, 3e4, 5e5, 1.75e6, 1.9e6, 1.8e6, 1.43e6, 1.2e6, 1.01e6, 8.5e5, 7.2e5, 6.1e5, 5.15e5, 4.45e5, 3.85e5, 3.45e5, 3.35e5, 3.45e5, 3.7e5, 3.9e5, 4.1e5, 4.3e5, 4.4e5, 4.5e5, 4.6e5],
    [1e3, 3e4, 5e5, 1.75e6, 1.88e6, 1.78e6, 1.4e6, 1.17e6, 9.8e5, 8.2e5, 6.95e5, 5.9e5, 5e5, 4.3e5, 3.75e5, 3.35e5, 3.15e5, 3.15e5, 3.3e5, 3.5e5, 3.6e5, 3.8e5, 3.9e5, 4e5, 4.1e5],
    [1e3, 3e4, 5e5, 1.7e6, 1.85e6, 1.75e6, 1.37e6, 1.14e6, 9.5e5, 7.9e5, 6.7e5, 5.7e5, 4.85e5, 4.2e5, 3.65e5, 3.25e5, 3.05e5, 2.9e5, 2.8e5, 2.9e5, 3e5, 3.1e5, 3.2e5, 3.3e5, 3.4e5],
    [1e3, 3e4, 5e5, 1.7e6, 1.82e6, 1.72e6, 1.34e6, 1.11e6, 9.2e5, 7.6e5, 6.5e5, 5.5e5, 4.7e5, 4.1e5, 3.55e5, 3.15e5, 2.95e5, 2.75e5, 2.6e5, 2.55e5, 2.55e5, 2.6e5, 2.65e5, 2.7e5, 2.75e5],
    [1e3, 3e4, 5e5, 1.82e6, 2e6, 1.9e6, 1.52e6, 1.28e6, 1.08e6, 9.1e5, 7.8e5, 6.7e5, 5.7e5, 4.9e5, 4.3e5, 3.9e5, 4.1e5, 4.6e5, 5.3e5, 5.9e5, 6.6e5, 7.2e5, 7.8e5, 8.3e5, 8.8e5],
    [1e3, 3e4, 5e5, 1.78e6, 1.92e6, 1.82e6, 1.46e6, 1.22e6, 1.03e6, 8.7e5, 7.4e5, 6.3e5, 5.3e5, 4.6e5, 4e5, 3.7e5, 3.9e5, 4.3e5, 4.8e5, 5.3e5, 5.8e5, 6.3e5, 6.8e5, 7.3e5, 7.7e5],
    [1e3, 3e4, 5e5, 1.72e6, 1.86e6, 1.76e6, 1.4e6, 1.18e6, 9.9e5, 8.3e5, 7.1e5, 6e5, 5.1e5, 4.4e5, 3.8e5, 3.5e5, 3.5e5, 3.7e5, 4e5, 4.3e5, 4.7e5, 5.1e5, 5.5e5, 5.9e5, 6.3e5],
    [1e3, 3e4, 5e5, 1.76e6, 1.9e6, 1.8e6, 1.44e6, 1.2e6, 1.01e6, 8.5e5, 7.2e5, 6.1e5, 5.2e5, 4.5e5, 3.9e5, 3.6e5, 3.7e5, 4e5, 4.4e5, 4.8e5, 5.2e5, 5.7e5, 6.2e5, 6.8e5, 7.4e5],
]
WA_BASE_T = [0, 5, 10, 20, 40, 60, 100, 150, 200, 250, 300, 350, 400, 450, 500, 550]
WA_BASE_V = [1e3, 3e4, 5e5, 1.8e6, 2e6, 1.9e6, 1.5e6, 1.25e6, 1.05e6, 8.8e5, 7.5e5,
             6.4e5, 5.4e5, 4.6e5, 4e5, 3.6e5]
WA_OUT_T = [
    [0, 5, 10, 20, 40, 60, 80, 100, 130, 200, 250, 350, 450, 550, 650, 800, 1000],
    [0, 5, 10, 20, 40, 67, 140, 202, 250, 292, 364, 450, 550, 650, 800, 1000],
    [0, 5, 10, 20, 40, 67, 100, 150, 200, 250, 300, 400, 500, 600, 700, 850, 1000],
    [0, 5, 10, 20, 40, 60, 100, 150, 200, 250, 280, 320, 360, 400, 430, 500, 600, 700, 800, 900, 1000],
    [0, 5, 10, 20, 40, 60, 100, 150, 200, 250, 300, 320, 360, 400, 450, 500, 550, 650, 800, 1000],
    [0, 5, 10, 20, 40, 60, 100, 150, 200, 250, 300, 350, 400, 440, 470, 500, 520, 540, 580, 650, 750, 850, 1000],
    WA_BASE_T + [580, 620, 650, 700, 800, 900, 1000],
    WA_BASE_T + [590, 620, 660, 700, 800, 900, 1000],
    WA_BASE_T + [600, 650, 700, 800, 900, 1000],
    WA_BASE_T + [600, 650, 750, 850, 950, 1000],
    WA_BASE_T + [600, 650, 700, 800, 900, 1000],
    WA_BASE_T + [600, 700, 800, 900, 1000],
    WA_BASE_T + [600, 750, 850, 1000],
    WA_BASE_T + [600, 800, 950, 975, 1000],
]
WA_OUT_V = [
    [1e3, 3e4, 5e5, 1.8e6, 2e6, 2.4e6, 6e6, 1.2e7, 1.5e7, 1.55e7, 1.4e7, 1e7, 6.5e6, 5e6, 4.2e6, 4e6, 4e6],
    [1e3, 3e4, 5e5, 1.8e6, 2e6, 2.5e6, 3.5e6, 6.6e6, 1e7, 1.55e7, 2.4e7, 2.2e7, 1.8e7, 1.5e7, 1.1e7, 8.5e6],
    [1e3, 3e4, 5e5, 1.8e6, 2e6, 2.2e6, 2.6e6, 3.2e6, 5e6, 9e6, 1.3e7, 1.45e7, 1.3e7, 1.1e7, 9.5e6, 8e6, 6.5e6],
    [1e3, 3e4, 5e5, 1.8e6, 2e6, 1.9e6, 1.5e6, 1.25e6, 1.05e6, 8.8e5, 8e5, 1.3e6, 4e6, 1.2e7, 2e7, 1.9e7, 1.5e7, 1.2e7, 1e7, 8.5e6, 7.5e6],
    [1e3, 3e4, 5e5, 1.8e6, 2e6, 1.9e6, 1.5e6, 1.25e6, 1.05e6, 8.8e5, 7.5e5, 7.1e5, 1.1e6, 3e6, 1e7, 1.6e7, 1.7e7, 1.3e7, 1.1e7, 9e6],
    [1e3, 3e4, 5e5, 1.8e6, 2e6, 1.9e6, 1.5e6, 1.25e6, 1.05e6, 8.8e5, 7.5e5, 6.4e5, 5.4e5, 4.7e5, 1e6, 6e6, 2.5e7, 3.6e7, 3.2e7, 2.3e7, 1.6e7, 1.2e7, 9e6],
    WA_BASE_V + [6e5, 3e6, 7e6, 9e6, 1e7, 9e6, 8e6],
    WA_BASE_V + [4e5, 1e6, 4e6, 6.5e6, 8e6, 7e6, 6.5e6],
    WA_BASE_V + [3.8e5, 1.5e6, 3e6, 4.5e6, 5e6, 5e6],
    WA_BASE_V + [4e5, 1e6, 3e6, 8e6, 1.5e7, 2.2e7],
    WA_BASE_V + [3.7e5, 4e5, 6e5, 9e5, 1.3e6, 1.8e6],
    WA_BASE_V + [3.8e5, 4.5e5, 7e5, 1.1e6, 1.5e6],
    WA_BASE_V + [3.7e5, 5e5, 9e5, 2.5e6],
    WA_BASE_V + [3.8e5, 5e5, 6e5, 1.5e6, 4.5e6],
]

# ---------------- Strong competition : abundance ----------------
SA_T = [0, 5, 10, 20, 40, 60, 100, 150, 200, 250, 300, 350, 400, 450, 500, 550,
        600, 650, 700, 750, 800, 850, 900, 950, 1000]
SA_LINES = [
    [1e3, 1.2e4, 2.9e4, 4.3e4, 4.7e4, 4.5e4, 4.0e4, 3.6e4, 3.4e4, 3.0e4, 2.9e4, 2.7e4, 2.8e4, 2.6e4, 2.9e4, 2.7e4, 3.1e4, 2.9e4, 3.3e4, 3.0e4, 3.4e4, 3.1e4, 3.6e4, 3.3e4, 3.5e4],
    [1e3, 1.3e4, 3.0e4, 4.4e4, 4.8e4, 4.6e4, 3.9e4, 3.4e4, 3.1e4, 2.9e4, 2.6e4, 2.7e4, 2.4e4, 2.5e4, 2.2e4, 2.4e4, 2.1e4, 2.3e4, 2.0e4, 2.4e4, 2.1e4, 2.6e4, 2.3e4, 2.7e4, 2.5e4],
    [1e3, 1.1e4, 2.7e4, 4.1e4, 4.6e4, 4.4e4, 3.8e4, 3.3e4, 2.9e4, 2.6e4, 2.4e4, 2.2e4, 2.3e4, 2.0e4, 1.9e4, 2.1e4, 1.8e4, 1.9e4, 1.6e4, 1.8e4, 1.5e4, 1.7e4, 1.9e4, 1.6e4, 1.8e4],
    [1e3, 1.2e4, 2.8e4, 4.2e4, 4.5e4, 4.3e4, 3.7e4, 3.2e4, 2.8e4, 2.5e4, 2.2e4, 2.0e4, 1.8e4, 1.9e4, 1.6e4, 1.7e4, 1.5e4, 1.4e4, 1.6e4, 1.3e4, 1.4e4, 1.2e4, 1.4e4, 1.2e4, 1.3e4],
    [1e3, 1.3e4, 2.9e4, 4.3e4, 4.6e4, 4.4e4, 3.6e4, 3.1e4, 2.7e4, 2.3e4, 2.1e4, 1.8e4, 1.7e4, 1.5e4, 1.4e4, 1.5e4, 1.3e4, 1.2e4, 1.3e4, 1.1e4, 1.2e4, 1.0e4, 1.1e4, 9.5e3, 1.0e4],
    [1e3, 1.2e4, 2.8e4, 4.2e4, 4.7e4, 4.5e4, 3.6e4, 3.0e4, 2.6e4, 2.2e4, 2.0e4, 1.7e4, 1.5e4, 1.4e4, 1.2e4, 1.3e4, 1.1e4, 1.0e4, 1.1e4, 9.0e3, 9.5e3, 8.2e3, 8.8e3, 7.6e3, 8.0e3],
    [1e3, 1.1e4, 2.7e4, 4.1e4, 4.5e4, 4.3e4, 3.5e4, 2.9e4, 2.5e4, 2.1e4, 1.8e4, 1.6e4, 1.4e4, 1.2e4, 1.1e4, 1.0e4, 9.0e3, 9.5e3, 8.0e3, 7.4e3, 7.8e3, 6.5e3, 6.9e3, 5.8e3, 6.0e3],
    [1e3, 1.2e4, 2.8e4, 4.2e4, 4.6e4, 4.4e4, 3.4e4, 2.8e4, 2.4e4, 2.0e4, 1.7e4, 1.5e4, 1.3e4, 1.1e4, 1.0e4, 9.0e3, 8.0e3, 7.2e3, 6.5e3, 6.8e3, 5.8e3, 5.2e3, 5.5e3, 4.6e3, 4.5e3],
    [1e3, 1.3e4, 2.9e4, 4.3e4, 4.6e4, 4.4e4, 3.4e4, 2.7e4, 2.3e4, 1.9e4, 1.6e4, 1.4e4, 1.2e4, 1.0e4, 8.8e3, 7.8e3, 7.0e3, 6.2e3, 5.5e3, 5.0e3, 4.6e3, 4.9e3, 4.1e3, 3.7e3, 3.5e3],
    [1e3, 1.2e4, 2.8e4, 4.2e4, 4.5e4, 4.3e4, 3.3e4, 2.6e4, 2.2e4, 1.8e4, 1.5e4, 1.3e4, 1.1e4, 9.2e3, 8.0e3, 7.0e3, 6.0e3, 5.3e3, 4.6e3, 4.0e3, 3.6e3, 3.3e3, 2.9e3, 2.7e3, 2.5e3],
    [1e3, 1.1e4, 2.7e4, 4.1e4, 4.5e4, 4.3e4, 3.2e4, 2.5e4, 2.1e4, 1.7e4, 1.4e4, 1.2e4, 1.0e4, 8.5e3, 7.2e3, 6.0e3, 5.0e3, 4.2e3, 3.6e3, 3.0e3, 2.6e3, 2.2e3, 2.0e3, 1.7e3, 1.6e3],
    [1e3, 1.2e4, 2.8e4, 4.2e4, 4.6e4, 4.4e4, 3.1e4, 2.4e4, 2.0e4, 1.6e4, 1.3e4, 1.1e4, 9.0e3, 7.5e3, 6.2e3, 5.0e3, 4.0e3, 3.4e3, 2.8e3, 2.4e3, 1.9e3, 1.6e3, 1.3e3, 1.0e3, 9.0e2],
    [1e3, 1.3e4, 2.9e4, 4.3e4, 4.7e4, 4.5e4, 3.3e4, 2.6e4, 2.2e4, 1.7e4, 1.5e4, 1.2e4, 9.5e3, 8.0e3, 6.8e3, 5.4e3, 4.5e3, 3.5e3, 2.9e3, 2.2e3, 1.8e3, 1.4e3, 1.6e3, 1.3e3, 1.2e3],
    [1e3, 1.2e4, 2.8e4, 4.2e4, 4.6e4, 4.4e4, 3.9e4, 3.5e4, 3.0e4, 2.7e4, 2.5e4, 2.3e4, 2.1e4, 2.2e4, 2.0e4, 1.9e4, 2.1e4, 1.9e4, 2.2e4, 2.0e4, 2.3e4, 2.1e4, 2.0e4, 2.3e4, 2.2e4],
    [1e3, 1.1e4, 2.7e4, 4.1e4, 4.6e4, 4.4e4, 3.7e4, 3.2e4, 2.7e4, 2.4e4, 2.1e4, 1.8e4, 1.6e4, 1.5e4, 1.3e4, 1.2e4, 1.1e4, 1.0e4, 9.0e3, 8.5e3, 7.6e3, 7.0e3, 6.6e3, 6.2e3, 6.0e3],
    [1e3, 1.2e4, 2.8e4, 4.2e4, 4.5e4, 4.3e4, 3.8e4, 3.3e4, 2.8e4, 2.5e4, 2.3e4, 2.0e4, 1.8e4, 1.7e4, 1.6e4, 1.5e4, 1.4e4, 1.5e4, 1.3e4, 1.4e4, 1.2e4, 1.3e4, 1.5e4, 1.3e4, 1.4e4],
    [1e3, 1.3e4, 2.9e4, 4.3e4, 4.6e4, 4.4e4, 3.5e4, 2.9e4, 2.4e4, 2.0e4, 1.7e4, 1.4e4, 1.2e4, 1.0e4, 8.5e3, 7.2e3, 6.4e3, 5.4e3, 4.8e3, 4.2e3, 3.8e3, 3.4e3, 3.2e3, 3.1e3, 3.0e3],
    [1e3, 1.2e4, 2.8e4, 4.2e4, 4.7e4, 4.5e4, 3.9e4, 3.5e4, 3.2e4, 2.9e4, 2.7e4, 2.6e4, 2.8e4, 2.6e4, 2.9e4, 3.1e4, 2.8e4, 3.2e4, 3.5e4, 3.3e4, 3.8e4, 3.6e4, 4.1e4, 3.8e4, 4.2e4],
]
SA_OUT_T = [
    [0, 5, 10, 20, 40, 60, 80, 100, 150, 200, 300, 400, 500, 600, 700, 800, 900, 1000],
    [0, 5, 10, 20, 40, 60, 90, 130, 200, 300, 380, 420, 500, 600, 700, 800, 900, 1000],
    [0, 5, 10, 20, 40, 60, 100, 150, 250, 350, 450, 550, 650, 800, 1000],
    [0, 5, 10, 20, 40, 60, 100, 150, 200, 250, 300, 350, 380, 420, 460, 520, 570, 650, 750, 850, 1000],
    [0, 5, 10, 20, 40, 60, 100, 150, 200, 250, 300, 350, 380, 430, 480, 550, 650, 800, 1000],
    [0, 5, 10, 20, 40, 60, 100, 200, 300, 400, 500, 600, 650, 700, 750, 850, 1000],
    [0, 5, 10, 20, 40, 60, 100, 200, 300, 400, 500, 600, 650, 700, 750, 850, 1000],
    [0, 5, 10, 20, 40, 60, 100, 200, 300, 400, 500, 600, 700, 760, 850, 1000],
    [0, 5, 10, 20, 40, 60, 100, 200, 300, 400, 500, 600, 700, 750, 770, 790, 810, 830, 850, 900, 950, 1000],
    [0, 5, 10, 20, 40, 60, 100, 200, 300, 400, 500, 600, 700, 800, 900, 950, 1000],
    [0, 5, 10, 20, 40, 60, 90, 120, 200, 300, 400, 500, 600, 700, 800, 900, 1000],
]
SA_OUT_V = [
    [1e3, 1.2e4, 2.8e4, 4.2e4, 4.6e4, 5e4, 1.2e5, 1.7e5, 1.9e5, 2e5, 2.1e5, 2.3e5, 1.8e5, 1.5e5, 1.3e5, 1.2e5, 1.1e5, 1e5],
    [1e3, 1.2e4, 2.8e4, 4.2e4, 4.6e4, 4.8e4, 1e5, 1.6e5, 1.8e5, 2e5, 3.2e5, 3.2e5, 2.8e5, 2.4e5, 2e5, 1.6e5, 1.3e5, 1.2e5],
    [1e3, 1.2e4, 2.8e4, 4.2e4, 4.6e4, 4.6e4, 9e4, 1.4e5, 1.6e5, 1.5e5, 1e5, 8e4, 7e4, 6.5e4, 6e4],
    [1e3, 1.2e4, 2.8e4, 4.2e4, 4.6e4, 4.4e4, 3.8e4, 3.3e4, 2.9e4, 2.6e4, 2.4e4, 2.4e4, 4e4, 1.2e5, 2.5e5, 3.5e5, 3.8e5, 3.2e5, 2.5e5, 2e5, 1.5e5],
    [1e3, 1.2e4, 2.8e4, 4.2e4, 4.6e4, 4.4e4, 3.8e4, 3.2e4, 2.8e4, 2.5e4, 2.3e4, 2.2e4, 2.2e4, 6e4, 1.8e5, 2.8e5, 2.4e5, 1.7e5, 1.3e5],
    [1e3, 1.2e4, 2.8e4, 4.2e4, 4.6e4, 4.4e4, 3.7e4, 2.8e4, 2.2e4, 1.8e4, 1.5e4, 1.2e4, 3e4, 8e4, 1.2e5, 1.5e5, 1.6e5],
    [1e3, 1.2e4, 2.8e4, 4.2e4, 4.6e4, 4.4e4, 3.6e4, 2.7e4, 2.1e4, 1.7e4, 1.5e4, 1.4e4, 1.5e4, 4e4, 7e4, 9e4, 1.1e5],
    [1e3, 1.2e4, 2.8e4, 4.2e4, 4.6e4, 4.4e4, 3.6e4, 2.6e4, 2e4, 1.6e4, 1.4e4, 1.3e4, 1.2e4, 4e4, 7e4, 8e4],
    [1e3, 1.2e4, 2.8e4, 4.2e4, 4.6e4, 4.4e4, 3.4e4, 2.2e4, 1.4e4, 9e3, 6e3, 4e3, 2.5e3, 1.5e3, 6e2, 2.3e2, 3.5e2, 6.5e2, 1.1e3, 1.4e3, 1.2e3, 1.5e3],
    [1e3, 1.2e4, 2.8e4, 4.2e4, 4.6e4, 4.4e4, 3.3e4, 2e4, 1.3e4, 8e3, 5e3, 3.5e3, 2.2e3, 1.6e3, 1.1e3, 9e2, 8e2],
    [1e3, 1.2e4, 2.8e4, 4.2e4, 4.6e4, 5.5e4, 1.4e5, 1.9e5, 2.1e5, 2.3e5, 2.4e5, 2.1e5, 1.8e5, 1.6e5, 1.5e5, 1.4e5, 1.3e5],
]

# ---------------- labels ----------------
COL_TITLES = ["Weak Competition", "Strong Competition"]
ROW_TITLES = ["Mean Trait", "Additive Genetic<br>Variance", "Abundance"]
X_TITLE = "time"
X_TICKS = [0, 250, 500, 750, 1000]
TRAIT_TICKS = [-10, -5, 0, 5, 10]
VAR_TICKS = [0, 10, 20, 30, 40]
ABUND_TICKS = [1e3, 1e5, 1e7]
ABUND_TICKTEXT = ["1e+03", "1e+05", "1e+07"]

# ---------------- figure ----------------
W, H = 1207, 913
FONT = "Liberation Sans, Arial, sans-serif"
GRID = "#EBEBEB"
TICKC = "#4D4D4D"
LINE_COLOR = "rgba(0,0,0,0.9)"

# panel boxes in pixels: (left, right, top, bottom)
PANELS = {
    1: (90, 591, 57, 228), 2: (696, 1197, 57, 228),
    3: (114, 591, 322, 538), 4: (689, 1197, 322, 538),
    5: (122, 591, 633, 849), 6: (728, 1197, 633, 849),
}

fig = go.Figure()


def add_line(panel, t, v, shape, width):
    line = dict(color=LINE_COLOR, width=width, shape=shape)
    if shape == "spline":
        line["smoothing"] = 0.7
    sfx = "" if panel == 1 else str(panel)
    fig.add_trace(go.Scatter(x=t, y=v, mode="lines", line=line,
                             xaxis="x" + sfx, yaxis="y" + sfx,
                             hoverinfo="skip", showlegend=False))


for v in WT_BUNDLE:
    add_line(1, WT_T, v, "spline", 1.4)
for t, v in zip(WT_OUT_T, WT_OUT_V):
    add_line(1, t, v, "spline", 0.65)
for v in ST_LINES:
    add_line(2, ST_T, v, "linear", 1.2)
for v in WV_BUNDLE:
    add_line(3, WV_T, v, "spline", 1.2)
for t, v in zip(WV_OUT_T, WV_OUT_V):
    add_line(3, t, v, "spline", 0.65)
for v in SV_LINES:
    add_line(4, SV_T, v, "linear", 1.3)
for v in SV_DROP:
    add_line(4, SV_DROP_T, v, "linear", 0.75)
for v in WA_BUNDLE:
    add_line(5, WA_T, v, "spline", 1.3)
for t, v in zip(WA_OUT_T, WA_OUT_V):
    add_line(5, t, v, "spline", 0.65)
for v in SA_LINES:
    add_line(6, SA_T, v, "linear", 1.2)
for t, v in zip(SA_OUT_T, SA_OUT_V):
    add_line(6, t, v, "linear", 0.75)

layout = dict(width=W, height=H, margin=dict(l=0, r=0, t=0, b=0),
              paper_bgcolor="white", plot_bgcolor="white",
              font=dict(family=FONT, color="black"), showlegend=False)

tickfont = dict(family=FONT, size=22, color=TICKC)
for p, (l, r, t, b) in PANELS.items():
    sfx = "" if p == 1 else str(p)
    xd = [l / W, r / W]
    yd = [1 - b / H, 1 - t / H]
    layout["xaxis" + sfx] = dict(
        domain=xd, anchor="y" + sfx, range=[-50, 1050], tickvals=X_TICKS,
        showgrid=True, gridcolor=GRID, gridwidth=1.6, zeroline=False,
        showline=False, ticks="", tickfont=tickfont, ticklabelstandoff=6,
        minor=dict(tickvals=[125, 375, 625, 875], showgrid=True,
                   gridcolor=GRID, gridwidth=0.8),
        fixedrange=True)
    ya = dict(domain=yd, anchor="x" + sfx, showgrid=True, gridcolor=GRID,
              gridwidth=1.6, zeroline=False, showline=False, ticks="",
              tickfont=tickfont, ticklabelstandoff=5, fixedrange=True)
    if p in (1, 2):
        ya.update(range=[-13.1, 13.1], tickvals=TRAIT_TICKS,
                  minor=dict(tickvals=[-12.5, -7.5, -2.5, 2.5, 7.5, 12.5],
                             showgrid=True, gridcolor=GRID, gridwidth=0.8))
    elif p in (3, 4):
        ya.update(range=[-2.1, 47.4], tickvals=VAR_TICKS,
                  minor=dict(tickvals=[5, 15, 25, 35, 45], showgrid=True,
                             gridcolor=GRID, gridwidth=0.8))
    else:
        ya.update(type="log", range=[1.39, 8.25], tickvals=ABUND_TICKS,
                  ticktext=ABUND_TICKTEXT,
                  minor=dict(tickvals=[1e2, 1e4, 1e6, 1e8], showgrid=True,
                             gridcolor=GRID, gridwidth=0.8))
    layout["yaxis" + sfx] = ya

ann = []
for txt, xc in zip(COL_TITLES, [340.5, 946.5]):
    ann.append(dict(text=txt, x=xc / W, y=1 - 22 / H, xref="paper", yref="paper",
                    xanchor="center", yanchor="middle", showarrow=False,
                    font=dict(size=34, color="black", family=FONT)))
for txt, (xc, yc) in zip(ROW_TITLES, [(30, 142.5), (45, 430), (30, 741)]):
    ann.append(dict(text=txt, x=xc / W, y=1 - yc / H, xref="paper", yref="paper",
                    xanchor="center", yanchor="middle", showarrow=False,
                    textangle=-90,
                    font=dict(size=26, color="black", family=FONT)))
for xc in [356.5, 962.5]:
    ann.append(dict(text=X_TITLE, x=xc / W, y=1 - 897 / H, xref="paper", yref="paper",
                    xanchor="center", yanchor="middle", showarrow=False,
                    font=dict(size=26, color="black", family=FONT)))
layout["annotations"] = ann

fig.update_layout(**layout)
fig.write_html("out.html")
